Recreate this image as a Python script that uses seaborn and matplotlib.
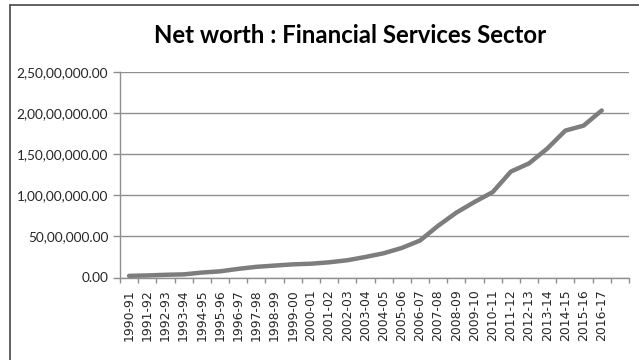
import numpy as np
import pandas as pd
import matplotlib
matplotlib.use("Agg")
import matplotlib.pyplot as plt
import seaborn as sns
from matplotlib.ticker import FuncFormatter
from matplotlib.lines import Line2D

# Financial year labels and net worth (in rupees)
years = [
    "1990-91", "1991-92", "1992-93", "1993-94", "1994-95", "1995-96",
    "1996-97", "1997-98", "1998-99", "1999-00", "2000-01", "2001-02",
    "2002-03", "2003-04", "2004-05", "2005-06", "2006-07", "2007-08",
    "2008-09", "2009-10", "2010-11", "2011-12", "2012-13", "2013-14",
    "2014-15", "2015-16", "2016-17",
]
net_worth = [
    200000, 250000, 330000, 380000, 600000, 750000,
    1050000, 1300000, 1450000, 1600000, 1680000, 1850000,
    2100000, 2500000, 2950000, 3600000, 4500000, 6300000,
    7900000, 9200000, 10400000, 12900000, 13900000, 15700000,
    17900000, 18500000, 20350000,
]
y_ticks = [0, 5000000, 10000000, 15000000, 20000000, 25000000]

title = "Net worth : Financial Services Sector"


def indian_format(v, pos=None):
    """Format a number with Indian digit grouping, e.g. 2,50,00,000.00."""
    s = str(int(round(v)))
    if len(s) > 3:
        head, tail = s[:-3], s[-3:]
        groups = []
        while len(head) > 2:
            groups.insert(0, head[-2:])
            head = head[:-2]
        if head:
            groups.insert(0, head)
        s = ",".join(groups + [tail])
    return s + ".00"


sns.set_theme(style="white")
plt.rcParams["font.family"] = ["Lato", "DejaVu Sans"]

fig = plt.figure(figsize=(6.39, 3.6), dpi=100)
fig.patch.set_facecolor("white")
ax = fig.add_axes([120 / 639, 1 - 277.5 / 360, (629 - 120) / 639, (277.5 - 72.3) / 360])

df = pd.DataFrame({"pos": np.arange(len(years)), "value": net_worth})
sns.lineplot(data=df, x="pos", y="value", ax=ax, color="#7d7d7d",
             linewidth=3.2, solid_capstyle="round", solid_joinstyle="round")

# one spare category slot after the last year
ax.set_xlim(-0.5, len(years) + 0.5)
ax.set_ylim(0, y_ticks[-1])
ax.set_yticks(y_ticks)
ax.yaxis.set_major_formatter(FuncFormatter(indian_format))
ax.grid(axis="y", color="#8f8f8f", linewidth=1)
ax.grid(axis="x", visible=False)
ax.set_axisbelow(True)

ax.set_xticks(np.arange(len(years)))
ax.set_xticklabels(years, rotation=90, family="DejaVu Sans")
ax.set_xticks(np.arange(-0.5, len(years) + 1), minor=True)
ax.tick_params(axis="x", which="major", length=0, pad=8.5,
               labelsize=8.9, labelcolor="#262626")
ax.tick_params(axis="x", which="minor", bottom=True, length=3.5,
               width=1, color="#8f8f8f")
ax.tick_params(axis="y", which="major", left=True, length=5, width=1,
               color="#8f8f8f", pad=3.5, labelsize=9.8, labelcolor="#262626")
ax.set_xlabel("")
ax.set_ylabel("")

for side in ("top", "right"):
    ax.spines[side].set_visible(False)
for side in ("left", "bottom"):
    ax.spines[side].set_color("#8f8f8f")
    ax.spines[side].set_linewidth(1)

fig.text(350 / 639, 1 - 43 / 360, title, ha="center", va="baseline",
         fontsize=17.3, fontweight="bold", family="Lato", color="black")

# chart-area border (top and left edges)
fig.add_artist(Line2D([10 / 639, 1], [1 - 5 / 360, 1 - 5 / 360],
                      transform=fig.transFigure, color="#555555", linewidth=1.3))
fig.add_artist(Line2D([10 / 639, 10 / 639], [1 - 5 / 360, 0],
                      transform=fig.transFigure, color="#555555", linewidth=1.3))

fig.savefig("out.png", dpi=100, facecolor="white")
